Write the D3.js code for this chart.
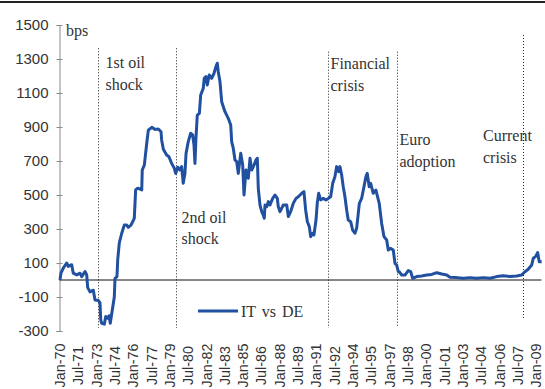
<!DOCTYPE html>
<html>
<head>
<meta charset="utf-8">
<script src="https://cdn.jsdelivr.net/npm/d3@7"></script>
<style>
  html, body { margin: 0; padding: 0; background: #fff; }
  svg { display: block; }
</style>
</head>
<body>
<svg id="chart" width="545" height="389"></svg>
<script>
// Italy vs Germany long-term yield spread, basis points (decimal-year dates)
const spreadDates = [
  1970.04, 1970.12, 1970.31, 1970.59, 1970.72, 1971.00, 1971.13, 1971.41, 1971.68, 1971.82,
  1972.09, 1972.23, 1972.31, 1972.50, 1972.77, 1972.91, 1973.18, 1973.32, 1973.38, 1973.46,
  1973.67, 1973.79, 1973.95, 1974.06, 1974.16, 1974.33, 1974.49, 1974.55, 1974.71, 1974.77,
  1974.90, 1975.10, 1975.31, 1975.51, 1975.64, 1975.86, 1976.13, 1976.24, 1976.41, 1976.74,
  1976.78, 1976.95, 1977.15, 1977.28, 1977.56, 1977.83, 1978.10, 1978.32, 1978.37, 1978.51,
  1978.78, 1978.97, 1979.19, 1979.41, 1979.52, 1979.69, 1979.87, 1980.01, 1980.14, 1980.28,
  1980.37, 1980.55, 1980.75, 1980.91, 1981.02, 1981.10, 1981.18, 1981.29, 1981.46, 1981.57,
  1981.78, 1981.86, 1982.00, 1982.11, 1982.27, 1982.47, 1982.66, 1982.82, 1982.93, 1983.01,
  1983.15, 1983.29, 1983.56, 1983.83, 1984.03, 1984.11, 1984.24, 1984.38, 1984.52, 1984.65,
  1984.85, 1985.01, 1985.12, 1985.28, 1985.47, 1985.61, 1985.75, 1985.94, 1986.10, 1986.21,
  1986.29, 1986.43, 1986.57, 1986.70, 1986.78, 1986.84, 1986.98, 1987.11, 1987.25, 1987.47,
  1987.66, 1987.85, 1987.93, 1988.07, 1988.34, 1988.62, 1988.75, 1988.94, 1989.16, 1989.38,
  1989.57, 1989.85, 1990.03, 1990.17, 1990.31, 1990.47, 1990.58, 1990.75, 1990.85, 1991.02,
  1991.12, 1991.24, 1991.40, 1991.62, 1991.84, 1992.03, 1992.22, 1992.39, 1992.57, 1992.71,
  1992.88, 1992.98, 1993.12, 1993.25, 1993.39, 1993.53, 1993.66, 1993.86, 1994.02, 1994.21,
  1994.35, 1994.57, 1994.76, 1994.95, 1995.11, 1995.22, 1995.38, 1995.50, 1995.71, 1995.93,
  1996.20, 1996.40, 1996.59, 1996.81, 1996.94, 1997.14, 1997.35, 1997.49, 1997.63, 1997.76,
  1997.84, 1998.04, 1998.31, 1998.58, 1998.78, 1998.94, 1999.27, 1999.68, 2000.09, 2000.50,
  2000.91, 2001.32, 2001.73, 2002.00, 2002.55, 2003.09, 2003.64, 2004.19, 2004.73, 2005.28,
  2005.82, 2006.37, 2006.91, 2007.46, 2007.87, 2008.14, 2008.41, 2008.69, 2008.82, 2009.04,
  2009.18, 2009.31, 2009.51
];
const spreadValues = [
  0, 40, 70, 100, 80, 90, 40, 30, 40, 20,
  50, 30, -45, -70, -60, -118, -120, -135, -235, -255,
  -260, -215, -225, -210, -255, -175, -100, 10, 20, 118,
  218, 275, 323, 323, 310, 323, 363, 530, 540, 530,
  647, 676, 806, 882, 898, 886, 888, 872, 824, 769,
  735, 725, 686, 657, 627, 663, 647, 667, 569, 627,
  745, 814, 863, 853, 794, 686, 833, 970, 980, 1088,
  1127, 1186, 1196, 1147, 1206, 1186, 1216, 1255, 1275, 1225,
  1167, 1049, 990, 951, 912, 814, 775, 706, 696, 627,
  745, 676, 500, 647, 598, 716, 647, 676, 706, 716,
  539, 441, 402, 382, 363, 441, 431, 461, 441, 480,
  500, 480, 431, 402, 441, 441, 373, 402, 451, 480,
  490, 510, 520, 412, 343, 314, 255, 275, 265, 353,
  451, 510, 471, 480, 471, 480, 490, 569, 608, 667,
  637, 667, 618, 549, 490, 412, 353, 343, 294, 275,
  304, 451, 480, 549, 608, 627, 549, 569, 510, 529,
  451, 333, 255, 235, 176, 186, 176, 98, 88, 49,
  49, 29, 29, 55, 49, 10, 20, 24, 29, 33,
  43, 35, 29, 16, 14, 10, 14, 10, 14, 10,
  20, 25, 20, 24, 29, 49, 63, 88, 127, 141,
  161, 108, 108
];

const seriesName = "IT vs DE";
const unitLabel = "bps";

const yTicks = [-300, -100, 100, 300, 500, 700, 900, 1100, 1300, 1500];
const tickLabels = [
  "Jan-70", "Jul-71", "Jan-73", "Jul-74", "Jan-76", "Jul-77", "Jan-79", "Jul-80", "Jan-82",
  "Jul-83", "Jan-85", "Jul-86", "Jan-88", "Jul-89", "Jan-91", "Jul-92", "Jan-94", "Jul-95",
  "Jan-97", "Jul-98", "Jan-00", "Jul-01", "Jan-03", "Jul-04", "Jan-06", "Jul-07", "Jan-09"
];

// Event markers: date, spread range covered by the dotted line, caption lines
const eventDates = [1973.15, 1979.55, 1992.00, 1997.66, 2008.02];
const eventSpans = [[-282, 1363], [-282, 1363], [-282, 1343], [-271, 1343], [-229, 1441]];
const eventCaptions = [
  ["1st oil", "shock"],
  ["2nd oil", "shock"],
  ["Financial", "crisis"],
  ["Euro", "adoption"],
  ["Current", "crisis"]
];

// ---- helpers ----
function yearToDate(t) {
  const y = Math.floor(t);
  const start = Date.UTC(y, 0, 1), end = Date.UTC(y + 1, 0, 1);
  return new Date(start + (t - y) * (end - start));
}
const parseTick = d3.utcParse("%b-%y");
const SERIF = "'Liberation Serif', 'Times New Roman', 'DejaVu Serif', serif";
const SANS = "'Liberation Sans', Arial, sans-serif";
const textColor = "#333";

// ---- layout ----
const svg = d3.select("#chart");
const lineColor = "#2150a0";

const x = d3.scaleUtc()
  .domain([new Date(Date.UTC(1970, 0, 1)), new Date(Date.UTC(2009, 6, 1))])
  .range([59.5, 541.5]);
const y = d3.scaleLinear().domain([-300, 1500]).range([331, 25]);

// top rule
svg.append("rect").attr("x", 0).attr("y", 1).attr("width", 545).attr("height", 2).attr("fill", "#222");

// y axis
const yAxis = svg.append("g")
  .attr("transform", "translate(59.5,0)")
  .call(d3.axisLeft(y).tickValues(yTicks).tickFormat(d => String(d)).tickSize(3).tickPadding(8));
yAxis.select(".domain").attr("stroke", "#8a8a8a");
yAxis.selectAll(".tick line").attr("stroke", "#8a8a8a").attr("x1", 3);
yAxis.selectAll(".tick text")
  .style("font-family", SANS)
  .style("font-size", "15px")
  .attr("fill", textColor);

// unit label
svg.append("text")
  .attr("x", 66).attr("y", 35.5)
  .style("font-family", SERIF).style("font-size", "16px").attr("fill", textColor)
  .text(unitLabel);

// zero line
svg.append("line")
  .attr("x1", x.range()[0]).attr("x2", x.range()[1])
  .attr("y1", y(0)).attr("y2", y(0))
  .attr("stroke", "#111").attr("stroke-width", 1);

// x axis labels (rotated, centred on a common line)
const xAxis = svg.append("g")
  .attr("transform", "translate(0,365.5)")
  .call(d3.axisBottom(x)
    .tickValues(tickLabels.map(parseTick))
    .tickFormat(d3.utcFormat("%b-%y"))
    .tickSize(0));
xAxis.select(".domain").remove();
xAxis.selectAll(".tick text")
  .style("font-family", SANS)
  .style("font-size", "14.4px")
  .attr("fill", textColor)
  .attr("transform", "rotate(-90)")
  .attr("x", 0).attr("y", 0).attr("dy", "0.36em")
  .attr("text-anchor", "middle");

// event markers
const captionLayout = [
  { dx: 7, y0: 68.3 },
  { dx: 5, y0: 222.5 },
  { dx: 2, y0: 69 },
  { dx: 2, y0: 145 },
  { dx: -40.5, y0: 141 }
];
eventDates.forEach((t, i) => {
  const xp = Math.round(x(yearToDate(t))) + 0.5;
  svg.append("line")
    .attr("x1", xp).attr("x2", xp)
    .attr("y1", y(eventSpans[i][1])).attr("y2", y(eventSpans[i][0]))
    .attr("stroke", "#222").attr("stroke-width", 1)
    .attr("stroke-dasharray", "1,2");
  const txt = svg.append("text")
    .style("font-family", SERIF).style("font-size", "16px").attr("fill", textColor);
  eventCaptions[i].forEach((s, j) => {
    txt.append("tspan")
      .attr("x", xp + captionLayout[i].dx)
      .attr("y", captionLayout[i].y0 + j * 21.7)
      .text(s);
  });
});

// spread line
const data = spreadDates.map((t, i) => ({ date: yearToDate(t), value: spreadValues[i] }));
svg.append("path")
  .datum(data)
  .attr("fill", "none")
  .attr("stroke", lineColor)
  .attr("stroke-width", 3)
  .attr("stroke-linejoin", "round")
  .attr("d", d3.line().x(d => x(d.date)).y(d => y(d.value)));

// legend
svg.append("line")
  .attr("x1", 198).attr("x2", 238).attr("y1", 311).attr("y2", 311)
  .attr("stroke", lineColor).attr("stroke-width", 3);
svg.append("text")
  .attr("x", 241).attr("y", 316.5)
  .style("font-family", SERIF).style("font-size", "16px").attr("fill", textColor)
  .style("word-spacing", "2px")
  .text(seriesName);
</script>
</body>
</html>
